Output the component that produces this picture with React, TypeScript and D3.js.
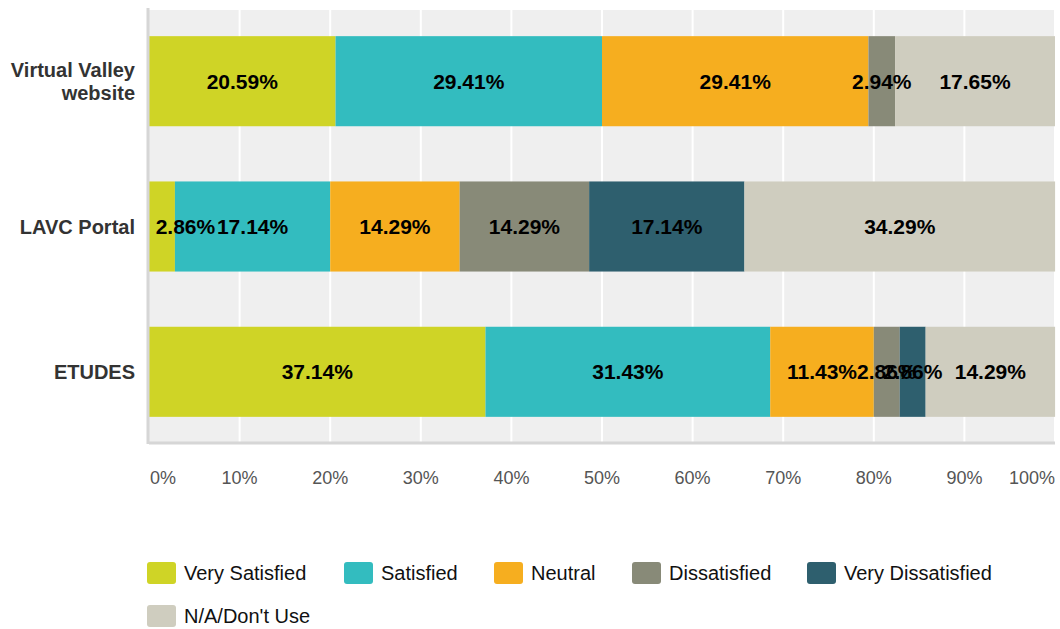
import React from 'react';
import * as d3 from 'd3';

const width = 1060;
const height = 629;
const margin = { top: 10, right: 5, bottom: 186, left: 149 };

const categories = ['Virtual Valley website', 'LAVC Portal', 'ETUDES'];
const series = ['Very Satisfied', 'Satisfied', 'Neutral', 'Dissatisfied', 'Very Dissatisfied', "N/A/Don't Use"];
const colors = ['#cfd426', '#33bcbf', '#f6ae1f', '#888a78', '#2e5f6e', '#cfcdbf'];

const verySatisfied = [20.59, 2.86, 37.14];
const satisfied = [29.41, 17.14, 31.43];
const neutral = [29.41, 14.29, 11.43];
const dissatisfied = [2.94, 14.29, 2.86];
const veryDissatisfied = [0, 17.14, 2.86];
const notUsed = [17.65, 34.29, 14.29];

const ticks = [0, 10, 20, 30, 40, 50, 60, 70, 80, 90, 100];

const seriesValues = [verySatisfied, satisfied, neutral, dissatisfied, veryDissatisfied, notUsed];

const font = "Arial, 'Liberation Sans', Helvetica, sans-serif";

export default function App() {
  const xScale = d3.scaleLinear().domain([0, 100]).range([margin.left, width - margin.right]);
  const yScale = d3
    .scaleBand<string>()
    .domain(categories)
    .range([margin.top, height - margin.bottom])
    .paddingInner(0.38)
    .paddingOuter(0.18);

  // build stacked rows
  const rows = categories.map((c, i) => {
    const r: Record<string, number | string> = { category: c };
    series.forEach((s, j) => (r[s] = seriesValues[j][i]));
    return r;
  });
  const stacked = d3.stack<any>().keys(series)(rows);

  const plotBottom = height - margin.bottom;
  const labelSize = 21;

  const legendRows = [
    [0, 1, 2, 3, 4],
    [5],
  ];
  const legendX = [147, 344, 494, 632, 807];

  return (
    <div style={{ position: 'absolute', left: 0, top: 0 }}>
      <svg width={width} height={height} style={{ display: 'block' }}>
        <rect x={margin.left} y={margin.top} width={width - margin.right - margin.left} height={plotBottom - margin.top} fill="#efefef" />
        {ticks.slice(1).map(t => (
          <line key={t} x1={xScale(t)} x2={xScale(t)} y1={margin.top} y2={plotBottom} stroke="#fff" strokeWidth={2} />
        ))}
        {stacked.map((layer, j) =>
          layer.map((d, i) => {
            const w = xScale(d[1]) - xScale(d[0]);
            if (w <= 0) return null;
            return (
              <rect
                key={series[j] + i}
                x={xScale(d[0])}
                y={yScale(categories[i])}
                width={w}
                height={yScale.bandwidth()}
                fill={colors[j]}
              />
            );
          })
        )}
        {stacked.map((layer, j) =>
          layer.map((d, i) => {
            const v = d[1] - d[0];
            if (v <= 0) return null;
            const text = seriesValues[j][i].toFixed(2) + '%';
            // rough label width, keep it inside the plot on the left
            const approxW = text.length * labelSize * 0.58;
            const cx = Math.max((xScale(d[0]) + xScale(d[1])) / 2, margin.left + 6 + approxW / 2);
            return (
              <text
                key={'l' + series[j] + i}
                x={cx}
                y={(yScale(categories[i]) as number) + yScale.bandwidth() / 2}
                dy="0.35em"
                textAnchor="middle"
                fontFamily={font}
                fontWeight="bold"
                fontSize={labelSize}
                fill="#000"
              >
                {text}
              </text>
            );
          })
        )}
        <line x1={margin.left} x2={width - margin.right} y1={plotBottom} y2={plotBottom} stroke="#d6d6d6" strokeWidth={3} />
        <line x1={margin.left - 1} x2={margin.left - 1} y1={margin.top - 2} y2={plotBottom + 1} stroke="#d6d6d6" strokeWidth={3} />
        {ticks.map((t, i) => (
          <text
            key={'t' + t}
            x={i === 0 ? xScale(t) + 1 : xScale(t)}
            y={484}
            textAnchor={i === 0 ? 'start' : i === ticks.length - 1 ? 'end' : 'middle'}
            fontFamily={font}
            fontSize={18}
            fill="#555"
          >
            {t}%
          </text>
        ))}
        {categories.map(c => {
          const words = c === 'Virtual Valley website' ? ['Virtual Valley', 'website'] : [c];
          const cy = (yScale(c) as number) + yScale.bandwidth() / 2;
          return (
            <text key={c} textAnchor="end" fontFamily={font} fontWeight="bold" fontSize={20} fill="#333">
              {words.map((w, k) => (
                <tspan key={k} x={135} y={cy + (k - (words.length - 1) / 2) * 23} dy="0.35em">
                  {w}
                </tspan>
              ))}
            </text>
          );
        })}
        {legendRows.map((row, ri) =>
          row.map((j, k) => (
            <g key={series[j]} transform={`translate(${legendX[k]},${562 + ri * 43})`}>
              <rect width={29} height={22} rx={3} fill={colors[j]} />
              <text x={37} y={11} dy="0.35em" fontFamily={font} fontSize={20} fill="#111">
                {series[j]}
              </text>
            </g>
          ))
        )}
      </svg>
    </div>
  );
}
